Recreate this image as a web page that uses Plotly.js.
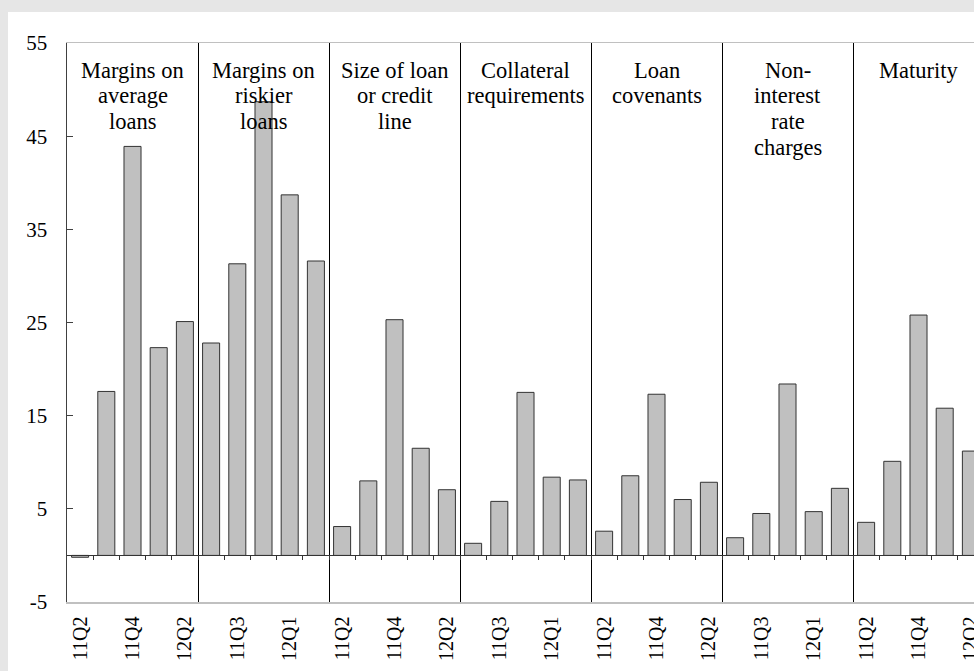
<!DOCTYPE html>
<html>
<head>
<meta charset="utf-8">
<script src="https://cdn.plot.ly/plotly-3.0.1.min.js"></script>
<style>
html,body{margin:0;padding:0;background:#e6e6e6;overflow:hidden;width:974px;height:671px;}
#chart{position:absolute;left:8px;top:12px;width:1000px;height:659px;}
</style>
</head>
<body>
<div id="chart"></div>
<script>
// ---- data ----
const quarters = ['11Q2','11Q3','11Q4','12Q1','12Q2'];
const groupLabels = [
  ['Margins on','average','loans'],
  ['Margins on','riskier','loans'],
  ['Size of loan','or credit','line'],
  ['Collateral','requirements'],
  ['Loan','covenants'],
  ['Non-','interest','rate','charges'],
  ['Maturity']
];
const marginsAverage = [-0.2, 17.6, 43.9, 22.3, 25.1];
const marginsRiskier = [22.8, 31.3, 48.7, 38.7, 31.6];
const sizeOfLoan     = [3.1, 8.0, 25.3, 11.5, 7.05];
const collateral     = [1.3, 5.8, 17.5, 8.4, 8.1];
const covenants      = [2.6, 8.55, 17.3, 6.0, 7.85];
const nonInterest    = [1.9, 4.5, 18.4, 4.7, 7.2];
const maturity       = [3.55, 10.1, 25.8, 15.8, 11.2];
const yTicks = [-5, 5, 15, 25, 35, 45, 55];
const yTickText = ['-5', '5', '15', '25', '35', '45', '55'];

// ---- build ----
const groups = [marginsAverage, marginsRiskier, sizeOfLoan, collateral, covenants, nonInterest, maturity];
const nQ = quarters.length;
const xs = [], ys = [], labels = [];
groups.forEach((g, gi) => g.forEach((v, qi) => { xs.push(gi*nQ+qi); ys.push(v); labels.push(quarters[qi]); }));
const n = xs.length;
const tickIdx = xs.filter(i => i % 2 === 0);
const tickTxt = tickIdx.map(i => labels[i]);
const boundaries = []; for (let i = 0; i < n - 1; i++) boundaries.push(i + 0.5);
const separators = []; for (let g = 1; g < groups.length; g++) separators.push(g*nQ - 0.5);
const yMin = yTicks[0], yMax = yTicks[yTicks.length-1];
const xRange = [-0.5, n - 0.5];
const serif = 'Liberation Serif, Times New Roman, serif';

const trace = {
  type: 'bar', x: xs, y: ys, width: 0.65,
  marker: {color: '#c0c0c0', line: {color: '#333333', width: 1}},
  hoverinfo: 'x+y', showlegend: false
};
// invisible helper traces so the overlay axes are drawn
const helper2 = {type: 'scatter', mode: 'markers', x: xs, y: ys, xaxis: 'x2', yaxis: 'y',
  marker: {opacity: 0, size: 1}, hoverinfo: 'skip', showlegend: false};
const helper3 = {type: 'scatter', mode: 'markers', x: xs, y: ys, xaxis: 'x3', yaxis: 'y',
  marker: {opacity: 0, size: 1}, hoverinfo: 'skip', showlegend: false};

const annotations = [];
groupLabels.forEach((lines, gi) => {
  lines.forEach((t, li) => {
    annotations.push({
      text: t, xref: 'x', yref: 'paper', x: gi*nQ + (nQ-1)/2, y: 1,
      yanchor: 'middle', xanchor: 'center', yshift: -(27 + li*25.7),
      showarrow: false, font: {family: serif, size: 22.5, color: '#000'}
    });
  });
});

const layout = {
  width: 1000, height: 659,
  margin: {l: 59, r: 24, t: 31, b: 69},
  paper_bgcolor: '#ffffff', plot_bgcolor: '#ffffff',
  bargap: 0,
  xaxis: {
    range: xRange, tickmode: 'array', tickvals: tickIdx, ticktext: tickTxt,
    tickangle: -90, ticks: '', showgrid: false, zeroline: false,
    showline: true, linecolor: '#c0c0c0', linewidth: 1.5, mirror: true,
    ticklabelstandoff: 5,
    tickfont: {family: serif, size: 20, color: '#000'}
  },
  xaxis2: {
    overlaying: 'x', anchor: 'free', position: (0 - yMin)/(yMax - yMin), side: 'bottom',
    range: xRange, tickmode: 'array', tickvals: boundaries, ticks: 'outside',
    ticklen: 4, tickcolor: '#333', showticklabels: false, showgrid: false, zeroline: false,
    showline: true, linecolor: '#333', linewidth: 1
  },
  xaxis3: {
    overlaying: 'x', anchor: 'y', side: 'bottom', range: xRange, tickmode: 'array', tickvals: separators,
    ticks: '', showticklabels: false, showgrid: true, gridcolor: '#000', gridwidth: 1,
    zeroline: false, showline: false
  },
  yaxis: {
    range: [yMin, yMax], tickmode: 'array', tickvals: yTicks, ticktext: yTickText, ticks: 'inside',
    ticklen: 6, tickcolor: '#404040', showgrid: false, zeroline: false,
    showline: true, linecolor: '#404040', linewidth: 1.5,
    ticklabelstandoff: 14,
    tickfont: {family: serif, size: 21, color: '#000'}
  },
  annotations: annotations
};

Plotly.newPlot('chart', [helper3, trace, helper2], layout, {displayModeBar: false, staticPlot: true});
</script>
</body>
</html>
